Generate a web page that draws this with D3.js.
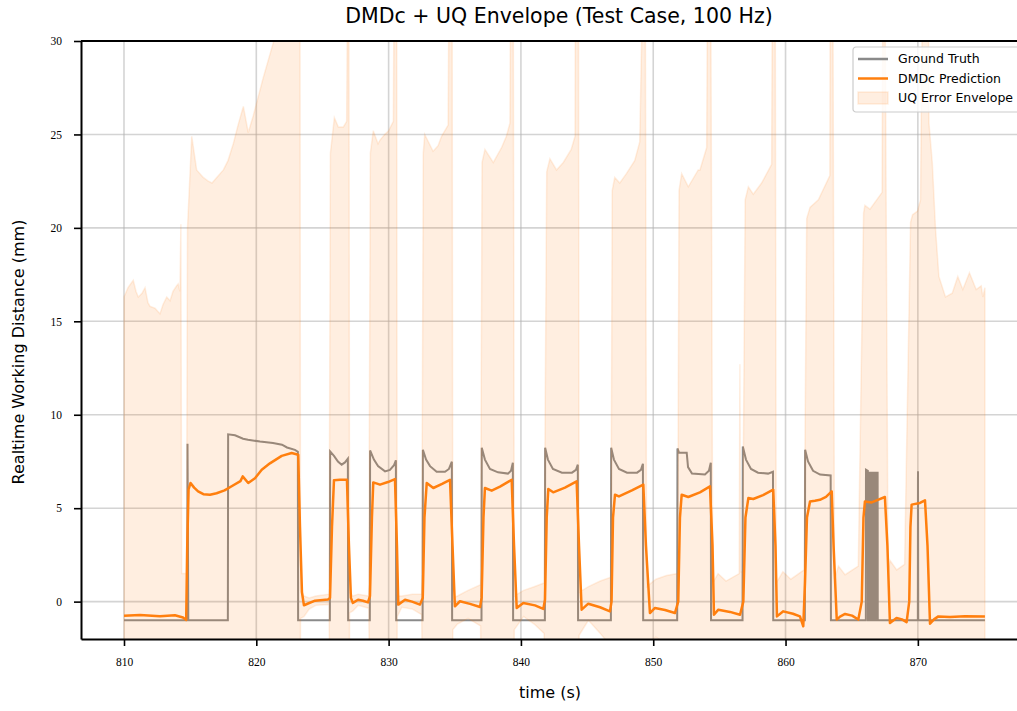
<!DOCTYPE html>
<html lang="en">
<head>
<meta charset="UTF-8">
<script src="https://cdn.jsdelivr.net/npm/d3@7"></script>
<title>DMDc + UQ Envelope</title>
<style>
  body { margin: 0; background: #fff; }
</style>
</head>
<body>
<svg id="chart" width="1017" height="711"></svg>
<script>
// tick labels
const xTicks = [810, 820, 830, 840, 850, 860, 870];
const yTicks = [0, 5, 10, 15, 20, 25, 30];

// ground truth [time s, mm]
const groundTruth = [
  [810.00,-1],[814.79,-1],[814.80,8.45],[814.86,-1],
  [817.85,-1],[817.87,8.95],[818.39,8.9],[819.0,8.72],[819.37,8.66],[820.28,8.57],[821.26,8.49],[821.94,8.4],[822.32,8.25],[822.92,8.12],[823.14,8.02],[823.16,-1],
  [825.56,-1],[825.58,8.04],[825.87,7.8],[826.17,7.5],[826.45,7.33],[826.70,7.45],[826.92,7.65],[826.94,-1],
  [828.58,-1],[828.60,8.09],[828.89,7.6],[829.20,7.25],[829.73,6.97],[830.10,7.05],[830.41,7.3],[830.55,7.56],[830.57,-1],
  [832.57,-1],[832.59,8.13],[832.83,7.6],[833.13,7.25],[833.63,6.95],[834.26,6.95],[834.56,7.1],[834.78,7.49],[834.80,-1],
  [837.02,-1],[837.04,8.23],[837.28,7.6],[837.66,7.1],[838.27,6.92],[839.02,6.85],[839.25,7.0],[839.39,7.43],[839.41,-1],
  [841.81,-1],[841.83,8.23],[842.04,7.6],[842.42,7.1],[843.10,6.9],[843.86,6.9],[844.16,7.05],[844.30,7.33],[844.32,-1],
  [846.80,-1],[846.82,8.23],[847.03,7.6],[847.41,7.1],[848.02,6.9],[848.78,6.9],[849.07,7.05],[849.22,7.38],[849.24,-1],
  [851.81,-1],[851.83,8.2],[851.95,7.97],[852.53,7.97],[852.63,7.2],[852.93,6.85],[853.91,6.8],[854.21,7.0],[854.35,7.43],[854.37,-1],
  [856.75,-1],[856.77,8.3],[857.01,7.6],[857.39,7.1],[857.92,6.9],[858.68,6.85],[859.05,6.95],[859.07,-1],
  [861.46,-1],[861.48,8.13],[861.70,7.5],[862.08,7.0],[862.61,6.8],[863.41,6.75],[863.43,-1],
  [866.07,-1],[866.08,7.06],[866.22,7.0],[866.23,-1],
  [866.28,-1],[866.29,6.9],[866.32,6.9],[866.33,-1],[866.36,-1],[866.37,6.9],[866.40,6.9],[866.41,-1],
  [866.44,-1],[866.45,6.9],[866.48,6.9],[866.49,-1],[866.52,-1],[866.53,6.9],[866.56,6.9],[866.57,-1],
  [866.60,-1],[866.61,6.9],[866.64,6.9],[866.65,-1],[866.68,-1],[866.69,6.9],[866.72,6.9],[866.73,-1],
  [866.76,-1],[866.77,6.9],[866.80,6.9],[866.81,-1],[866.84,-1],[866.85,6.9],[866.88,6.9],[866.89,-1],
  [866.92,-1],[866.93,6.9],[866.96,6.9],[866.97,-1],
  [870.00,-1],[870.01,6.97],[870.03,-1],[875.07,-1]
];

// DMDc prediction [time s, mm]
const prediction = [
  [810.00,-0.75],[811.21,-0.72],[812.72,-0.78],[813.85,-0.73],[814.46,-0.85],[814.70,-0.98],[814.78,3.0],[814.88,6.0],[815.03,6.35],[815.3,6.1],[815.6,5.9],[816.0,5.75],[816.5,5.72],[817.0,5.8],[817.6,5.95],[818.2,6.2],[818.8,6.45],[818.97,6.7],[819.39,6.35],[819.9,6.6],[820.41,7.06],[821.03,7.4],[821.92,7.8],[822.67,7.95],[823.17,7.86],
  [823.30,4],[823.45,0.5],[823.60,-0.2],[823.91,-0.1],[824.44,0.05],[825.42,0.12],
  [825.57,0.2],[825.72,4],[825.87,6.5],[826.32,6.52],[826.85,6.52],[827.00,3],[827.15,0.2],[827.30,-0.07],[827.69,0.1],[828.06,0.05],[828.44,-0.04],
  [828.59,0.3],[828.74,4.5],[828.84,6.38],[829.35,6.26],[829.95,6.4],[830.48,6.56],[830.63,3],[830.73,-0.16],[831.24,0.1],[831.77,0.0],[832.37,-0.16],
  [832.58,0.2],[832.71,4.5],[832.88,6.35],[833.38,6.08],[834.04,6.3],[834.64,6.52],[834.83,3],[835.01,-0.25],[835.39,0.02],[836.15,-0.12],[836.91,-0.29],
  [837.03,0.2],[837.17,4.5],[837.28,6.08],[837.79,5.94],[838.42,6.15],[839.30,6.52],[839.48,3],[839.68,-0.34],[840.18,-0.07],[841.06,-0.2],[841.69,-0.39],
  [841.82,0.1],[841.95,4.5],[842.07,6.03],[842.44,5.85],[843.33,6.1],[844.21,6.44],[844.39,3],[844.59,-0.43],[845.09,-0.11],[845.98,-0.3],[846.73,-0.52],
  [846.85,0],[846.96,4.5],[847.11,5.72],[847.41,5.63],[848.39,5.95],[849.25,6.26],[849.45,3],[849.75,-0.61],[850.13,-0.34],[850.89,-0.45],[851.64,-0.61],
  [851.89,0],[852.02,4.5],[852.15,5.72],[852.65,5.6],[853.53,5.85],[854.29,6.17],[854.48,3],[854.59,-0.7],[854.92,-0.43],[855.80,-0.55],[856.56,-0.7],
  [856.81,0],[856.97,4.5],[857.19,5.54],[857.56,5.49],[858.30,5.7],[859.07,5.99],[859.24,3],[859.35,-0.79],[859.83,-0.52],[860.56,-0.65],[861.09,-0.79],[861.34,-1.32],
  [861.47,1],[861.62,4.5],[861.85,5.36],[862.22,5.4],[862.60,5.45],[863.06,5.6],[863.49,5.9],[863.63,3],[863.87,-0.96],[864.12,-0.8],[864.50,-0.66],[865.03,-0.75],[865.50,-0.96],
  [865.76,0],[865.89,4.5],[866.00,5.36],[866.51,5.31],[866.98,5.45],[867.51,5.6],[867.70,3],[867.89,-1.14],[868.39,-0.87],[868.80,-0.95],[869.15,-1.1],
  [869.35,0],[869.44,4],[869.53,5.19],[870.16,5.28],[870.54,5.42],[870.73,3],[870.92,-1.18],[871.22,-0.95],[871.55,-0.79],[872.43,-0.82],[873.56,-0.78],[875.07,-0.79]
];

// UQ error envelope [time s, upper mm, lower mm]
const envelope = [
  [810.00,16.3,-10],[810.30,16.8,-10],[810.70,17.2,-10],[810.91,16.6,-10],[811.08,16.3,-10],[811.36,16.5,-10],[811.59,16.8,-10],[811.81,16.0,-10],[811.97,15.8,-10],[812.34,15.7,-10],[812.72,15.4,-10],[812.95,15.9,-10],[813.23,16.3,-10],[813.48,16.1,-10],[813.70,16.6,-10],[813.98,16.9,-10],[814.10,17.0,-10],[814.23,16.6,-10],[814.30,20.2,-10],[814.36,1.5,-10],[814.72,1.5,-10],
  [814.80,20,-10],[815.12,24.9,-10],[815.49,23.1,-10],[815.99,22.7,-10],[816.37,22.5,-10],[816.65,22.4,-10],[817.01,22.7,-10],[817.51,23.1,-10],[817.86,23.6,-10],[818.26,24.5,-10],[818.62,25.5,-10],[819.02,26.5,-10],[819.39,25.1,-10],[819.77,26.0,-10],[820.51,28.0,-10],[821.28,29.9,-10],[821.79,31.5,-10],[822.55,33,-10],[823.30,35,-10],
  [823.34,0.6,-0.9],[823.6,0.3,-0.8],[824.0,0.2,-0.4],[824.5,0.3,-0.2],[825.5,0.4,-0.15],
  [825.60,24,-10],[825.90,25.9,-10],[826.20,25.4,-10],[826.58,25.4,-10],[826.83,25.7,-10],[826.89,33,-10],[827.00,33,-10],
  [827.05,0.5,-0.6],[827.3,0.3,-0.5],[827.7,0.4,-0.2],[828.5,0.3,-0.35],
  [828.62,24,-10],[828.84,25.2,-10],[829.20,24.5,-10],[829.35,24.7,-10],[829.7,25.0,-10],[830.0,25.2,-10],[830.36,25.7,-10],[830.41,33,-10],[830.61,33,-10],
  [830.65,0.3,-0.8],[831.0,0.3,-0.3],[831.8,0.4,-0.4],[832.5,0.4,-0.7],
  [832.62,24,-10],[832.73,25.0,-10],[833.36,24.1,-10],[833.74,24.4,-10],[834.0,24.9,-10],[834.5,25.5,-10],[834.56,33,-10],[834.80,33,-10],
  [834.85,0.2,-1.5],[835.2,0.3,-1.2],[836.0,0.6,-0.9],[836.95,0.9,-1.3],
  [837.06,23.5,-10],[837.28,24.2,-10],[837.91,23.5,-10],[838.54,24.3,-10],[838.9,24.9,-10],[839.17,25.6,-10],[839.22,33,-10],[839.42,33,-10],
  [839.5,0.3,-1.5],[840.2,0.6,-0.8],[841.0,0.8,-1.2],[841.75,1.0,-1.7],
  [841.95,23.0,-10],[842.19,23.7,-10],[842.69,23.1,-10],[843.20,23.5,-10],[843.8,24.2,-10],[844.09,24.9,-10],[844.12,33,-10],[844.35,33,-10],
  [844.4,0.5,-1.8],[845.1,0.8,-1.0],[846.0,1.1,-1.7],[846.8,1.3,-2.4],
  [846.9,22.0,-10],[847.09,22.7,-10],[847.47,22.4,-10],[847.97,22.9,-10],[848.6,23.6,-10],[848.98,24.6,-10],[849.2,33,-10],[849.4,33,-10],
  [849.5,0.8,-2.3],[850.2,1.2,-1.9],[851.0,1.4,-2.3],[851.85,1.5,-2.8],
  [851.95,22.0,-10],[852.15,22.9,-10],[852.65,22.2,-10],[853.40,23.1,-10],[853.53,23.1,-10],[854.04,24.3,-10],[854.1,33,-10],[854.35,33,-10],
  [854.5,1.0,-2.5],[854.9,1.5,-2.3],[855.5,1.1,-2.2],[856.5,1.5,-2.9],[856.55,12.7,-10],[856.6,1.6,-3.0],[856.75,1.6,-3.0],
  [856.95,21.5,-10],[857.19,22.2,-10],[857.56,21.8,-10],[858.19,22.4,-10],[858.95,23.4,-10],[859.0,33,-10],[859.22,33,-10],
  [859.3,1.0,-2.6],[859.8,1.6,-2.6],[860.4,1.2,-2.5],[861.4,1.7,-4],
  [861.6,20.5,-10],[861.85,21.1,-10],[862.48,21.5,-10],[863.35,22.8,-10],[863.37,33,-10],[863.58,33,-10],
  [863.7,1.2,-3.2],[864.0,1.9,-3.5],[864.5,1.44,-2.8],[865.5,1.9,-3.8],
  [865.9,20.8,-10],[866.00,21.2,-10],[866.38,21.0,-10],[867.30,21.9,-10],[867.35,33,-10],[867.52,33,-10],
  [867.75,1.5,-3.8],[867.9,2.2,-4.5],[868.4,1.7,-3.4],[869.0,2.0,-4.2],
  [869.45,20.3,-10],[869.60,20.7,-10],[869.98,20.9,-10],[870.2,21.5,-10],[870.35,33,-10],[870.8,32,-10],[870.84,25.6,-10],[871.09,23.5,-10],[871.34,19.9,-10],[871.59,17.4,-10],[872.09,16.3,-10],[872.6,16.5,-10],[873.02,17.4,-10],[873.40,16.7,-10],[873.90,17.6,-10],[874.41,16.7,-10],[874.79,16.9,-10],[874.91,16.3,-10],[875.07,16.8,-10]
];

const mLeft = 81, mRight = 1027, mTop = 41, mBottom = 639;

const svg = d3.select("#chart");

const x = d3.scaleLinear().domain([806.75, 878.25]).range([mLeft, mRight]);
const y = d3.scaleLinear().domain([-2, 30]).range([mBottom, mTop]);

svg.append("defs").append("clipPath").attr("id", "plotclip")
  .append("rect").attr("x", mLeft).attr("y", mTop).attr("width", mRight - mLeft).attr("height", mBottom - mTop);

// grid
const grid = svg.append("g").attr("stroke", "#b0b0b0").attr("stroke-opacity", 0.55).attr("stroke-width", 1.6);
grid.selectAll(".gx").data(xTicks).enter().append("line")
  .attr("x1", d => x(d)).attr("x2", d => x(d)).attr("y1", mTop).attr("y2", mBottom);
grid.selectAll(".gy").data(yTicks).enter().append("line")
  .attr("x1", mLeft).attr("x2", mRight).attr("y1", d => y(d)).attr("y2", d => y(d));

const plot = svg.append("g").attr("clip-path", "url(#plotclip)");

// ground truth (under the envelope)
const line = d3.line().x(d => x(d[0])).y(d => y(d[1]));
plot.append("path")
  .attr("d", line(groundTruth))
  .attr("fill", "none")
  .attr("stroke", "#8a8a8a")
  .attr("stroke-width", 2)
  .attr("stroke-linejoin", "miter");

// envelope
const area = d3.area().x(d => x(d[0])).y0(d => y(d[2])).y1(d => y(d[1]));
plot.append("path")
  .attr("d", area(envelope))
  .attr("fill", "#ff7f0e").attr("fill-opacity", 0.13)
  .attr("stroke", "#ff7f0e").attr("stroke-opacity", 0.12).attr("stroke-width", 1.5);

// prediction
plot.append("path")
  .attr("d", line(prediction))
  .attr("fill", "none")
  .attr("stroke", "#ff7f0e")
  .attr("stroke-width", 2.5)
  .attr("stroke-linejoin", "round");

// axes
const xAxis = d3.axisBottom(x).tickValues(xTicks).tickSize(7).tickSizeOuter(0).tickPadding(12);
const yAxis = d3.axisLeft(y).tickValues(yTicks).tickSize(7).tickSizeOuter(0).tickPadding(12);

const gx = svg.append("g").attr("transform", `translate(0,${mBottom})`).call(xAxis);
const gy = svg.append("g").attr("transform", `translate(${mLeft},0)`).call(yAxis);
[gx, gy].forEach(g => {
  g.select(".domain").attr("stroke", "#000").attr("stroke-width", 2);
  g.selectAll(".tick line").attr("stroke", "#000").attr("stroke-width", 1.6);
  g.selectAll(".tick text").attr("font-family", "'Liberation Serif', serif").attr("font-size", 11.5).attr("fill", "#000");
});
svg.append("line").attr("x1", mLeft).attr("x2", mRight).attr("y1", mTop).attr("y2", mTop)
  .attr("stroke", "#000").attr("stroke-width", 2);
svg.append("line").attr("x1", mRight).attr("x2", mRight).attr("y1", mTop).attr("y2", mBottom)
  .attr("stroke", "#000").attr("stroke-width", 2);

// labels
const sans = "'DejaVu Sans', sans-serif";
svg.append("text").attr("x", 559).attr("y", 23).attr("text-anchor", "middle")
  .attr("font-family", sans).attr("font-size", 20.5).text("DMDc + UQ Envelope (Test Case, 100 Hz)");
svg.append("text").attr("x", 550).attr("y", 698).attr("text-anchor", "middle")
  .attr("font-family", sans).attr("font-size", 16).text("time (s)");
svg.append("text").attr("transform", `translate(24,352) rotate(-90)`).attr("text-anchor", "middle")
  .attr("font-family", sans).attr("font-size", 16).text("Realtime Working Distance (mm)");

// legend
const lg = svg.append("g").attr("transform", "translate(853,47)");
lg.append("rect").attr("width", 168).attr("height", 65).attr("rx", 3)
  .attr("fill", "#fff").attr("fill-opacity", 0.8).attr("stroke", "#cccccc").attr("stroke-width", 1.2);
const items = [
  { label: "Ground Truth", kind: "line", color: "#8a8a8a" },
  { label: "DMDc Prediction", kind: "line", color: "#ff7f0e" },
  { label: "UQ Error Envelope", kind: "patch", color: "#ff7f0e" }
];
items.forEach((it, i) => {
  const yy = 12 + i * 19.5;
  if (it.kind === "line") {
    lg.append("line").attr("x1", 5).attr("x2", 35).attr("y1", yy).attr("y2", yy)
      .attr("stroke", it.color).attr("stroke-width", 2.5);
  } else {
    lg.append("rect").attr("x", 5).attr("y", yy - 6).attr("width", 30).attr("height", 12)
      .attr("fill", it.color).attr("fill-opacity", 0.13)
      .attr("stroke", it.color).attr("stroke-opacity", 0.12).attr("stroke-width", 1.5);
  }
  lg.append("text").attr("x", 45).attr("y", yy + 4).attr("font-family", sans).attr("font-size", 12.5)
    .attr("fill", "#000").text(it.label);
});
</script>
</body>
</html>
